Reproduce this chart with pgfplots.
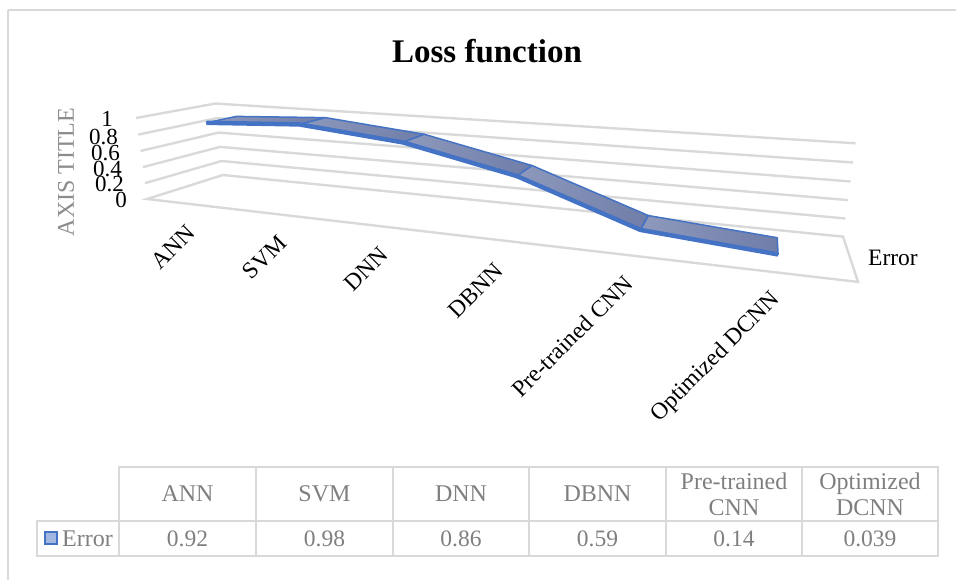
\documentclass[border=0pt]{standalone}
\usepackage{pgfplots}
\usepackage{pgfplotstable}
\usepackage{fontspec}
\pgfplotsset{compat=1.18}
\setmainfont{Liberation Serif}

\definecolor{gridgrey}{HTML}{D9D9D9}
\definecolor{txtgrey}{HTML}{7F7F7F}
\definecolor{serblue}{HTML}{4472C4}
\definecolor{segA}{HTML}{8E99BC}
\definecolor{segB}{HTML}{6F7DA8}

\pgfplotstableread{
i val
0 0.92
1 0.98
2 0.86
3 0.59
4 0.14
5 0.039
}\errdata

% category index i, depth d (0 front, 1 back), value v -> picture position
\tikzset{declare function={
  prjw(\a,\b,\c)=1-0.28*(\a+0.5)/6+0.14*\b-0.0303*\c;
  prjx(\a,\b,\c)=(147+470.8*(\a+0.5)/6+107.2*\b-15.1*\c)/prjw(\a,\b,\c);
  prjy(\a,\b,\c)=(199+4*(\a+0.5)/6+0.5*\b-84.6*\c)/prjw(\a,\b,\c);
}}
\pgfplotsset{
  table/front/.style={x expr={prjx(\thisrow{i},0.3,\thisrow{val})},y expr={prjy(\thisrow{i},0.3,\thisrow{val})}},
  table/proj/.style={row sep=\\,x expr={prjx(\thisrow{i},\thisrow{d},\thisrow{val})},y expr={prjy(\thisrow{i},\thisrow{d},\thisrow{val})}},
}
\newcommand{\seg}[4]{%
  \addplot[draw=serblue,line width=1.5pt,left color=segA,right color=segB,line join=round]
    table[proj] {i d val\\ #1 0.3 #2\\ #3 0.3 #4\\ #3 0.7 #4\\ #1 0.7 #2\\} -- cycle;
}

\begin{document}
\begin{tikzpicture}
\begin{axis}[
  scale only axis,width=956pt,height=580pt,
  xmin=0,xmax=956,ymin=0,ymax=580,y dir=reverse,
  hide axis,clip=false,
  every axis plot/.append style={mark=none},
]
\path[use as bounding box] (0,0) rectangle (956,580);
% chart frame
\draw[gridgrey,line width=1.5pt] (8,10) -- (956,10);
\draw[gridgrey,line width=1.5pt] (8,10) -- (8,580);

% floor and walls
\addplot[gridgrey,line width=2.4pt,line join=miter]
  table[proj] {i d val\\ -0.5 0 0\\ -0.5 1 0\\ 5.5 1 0\\ 5.5 0 0\\} -- cycle;
\pgfplotsinvokeforeach{0.2,0.4,0.6,0.8,1}{
  \addplot[gridgrey,line width=2.4pt]
    table[proj] {i d val\\ -0.5 0 #1\\ -0.5 1 #1\\ 5.5 1 #1\\};
}

% ribbon
\seg{0}{0.92}{1}{0.98}
\seg{1}{0.98}{2}{0.86}
\seg{2}{0.86}{3}{0.59}
\seg{3}{0.59}{4}{0.14}
\seg{4}{0.14}{5}{0.039}
\addplot[serblue,line width=4.5pt,line join=round] table[front] {\errdata};

% texts
\node[font=\fontsize{33}{36}\selectfont\bfseries] at (487,51) {Loss function};
\node[font=\fontsize{24}{26}\selectfont,text=txtgrey!90,rotate=90] at (66,172) {AXIS TITLE};
\begin{scope}[every node/.style={font=\fontsize{23}{25}\selectfont,anchor=east,inner sep=0pt}]
  \node at (113,119) {1};
  \node at (118,137) {0.8};
  \node at (120,153) {0.6};
  \node at (122,169) {0.4};
  \node at (124,184) {0.2};
  \node at (127,200) {0};
\end{scope}
\node[font=\fontsize{23.5}{25}\selectfont,anchor=west,inner sep=0pt] at (868,258) {Error};
\begin{scope}[every node/.style={font=\fontsize{23.5}{25}\selectfont,rotate=45,inner sep=0pt}]
  \node at (173,247) {ANN};
  \node at (264.5,257) {SVM};
  \node at (366,269) {DNN};
  \node at (476,291) {DBNN};
  \node at (572,336.5) {Pre-trained CNN};
  \node at (716,357.5) {Optimized DCNN};
\end{scope}

% data table
\draw[gridgrey,line width=1.6pt] (119,467) rectangle (938,556);
\draw[gridgrey,line width=1.6pt] (37,521) rectangle (119,556);
\draw[gridgrey,line width=1.6pt] (119,521) -- (938,521);
\pgfplotsinvokeforeach{256,393,529,666,802}{
  \draw[gridgrey,line width=1.6pt] (#1,467) -- (#1,556);
}
\draw[serblue,line width=1.2pt,fill=serblue!50] (45,532) rectangle (57,544);
\begin{scope}[every node/.style={font=\fontsize{24}{26}\selectfont,text=txtgrey,inner sep=0pt,align=center}]
  \node[anchor=west] at (62,539) {Error};
  \node at (187.5,494) {ANN};
  \node at (324.5,494) {SVM};
  \node at (461,494) {DNN};
  \node at (597.5,494) {DBNN};
  \node at (734,494) {Pre-trained\\[0pt]CNN};
  \node at (870,494) {Optimized\\[0pt]DCNN};
\end{scope}
\begin{scope}[every node/.style={font=\fontsize{23.5}{25}\selectfont,text=txtgrey,inner sep=0pt}]
  \node at (187.5,539) {0.92};
  \node at (324.5,539) {0.98};
  \node at (461,539) {0.86};
  \node at (597.5,539) {0.59};
  \node at (734,539) {0.14};
  \node at (870,539) {0.039};
\end{scope}
\end{axis}
\end{tikzpicture}
\end{document}
